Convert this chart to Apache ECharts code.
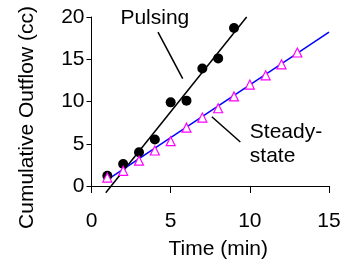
<!DOCTYPE html>
<html><head><meta charset="utf-8">
<script src="https://cdn.jsdelivr.net/npm/echarts@6/dist/echarts.min.js"></script>
<style>html,body{margin:0;padding:0;background:#fff}#c{width:356px;height:261px}</style>
</head><body><div id="c"></div>
<script>
const xTicks = [0, 5, 10, 15];
const yTicks = [0, 5, 10, 15, 20];
const time = [1, 2, 3, 4, 5, 6, 7, 8, 9, 10, 11, 12, 13];
const pulsing = [1.2, 2.6, 4.0, 5.5, 9.9, 10.1, 13.9, 15.1, 18.7];
const steady = [1.0, 1.8, 3.0, 4.2, 5.3, 6.9, 8.1, 9.2, 10.6, 12.0, 13.1, 14.4, 15.8];
const pulsingFit = [[0.9, -0.8], [9.8, 20]];
const steadyFit = [[0.97, 0.7], [15, 18.2]];
const pulsingPointer = [[4.2, 18.2], [5.76, 12.7]];
const steadyPointer = [[7.6, 8.2], [9.4, 5.2]];
const pulsingLabel = ['Pulsing', 4.0, 19.9];
const steadyLabel = ['Steady-\nstate', 10.0, 5.0];

const FONT = 'Liberation Sans, Arial, sans-serif';
const FS = 21;
const chart = echarts.init(document.getElementById('c'), null, {renderer: 'canvas'});
const lineStyleBlack = {color: '#000', width: 1.5};
chart.setOption({
  animation: false,
  grid: {left: 91.5, right: 27, top: 17, bottom: 75, containLabel: false, outerBoundsMode: 'none'},
  xAxis: {
    type: 'value', min: xTicks[0], max: xTicks[xTicks.length - 1], interval: 5,
    name: 'Time (min)', nameLocation: 'middle', nameGap: 53,
    nameTextStyle: {fontSize: FS, fontFamily: FONT, color: '#000', padding: [0, 0, 0, 16]},
    axisLine: {onZero: false, lineStyle: {color: '#000', width: 1}},
    axisTick: {length: 7, lineStyle: {color: '#000'}},
    axisLabel: {fontSize: FS, fontFamily: FONT, color: '#000', margin: 25},
    splitLine: {show: false}
  },
  yAxis: {
    type: 'value', min: yTicks[0], max: yTicks[yTicks.length - 1], interval: 5,
    name: 'Cumulative Outflow (cc)', nameLocation: 'middle', nameGap: 54, nameRotate: 90,
    nameTextStyle: {fontSize: FS, fontFamily: FONT, color: '#000', padding: [0, 32, 0, 0]},
    axisLine: {show: true, lineStyle: {color: '#000', width: 1}},
    axisTick: {show: true, length: 5, lineStyle: {color: '#000'}},
    axisLabel: {fontSize: FS, fontFamily: FONT, color: '#000', margin: 7},
    splitLine: {show: false}
  },
  series: [
    {type: 'line', data: pulsingFit, symbol: 'none', clip: false, lineStyle: lineStyleBlack, z: 2},
    {type: 'line', data: steadyFit, symbol: 'none', clip: false, lineStyle: {color: '#0000ff', width: 1.5}, z: 2},
    {type: 'line', data: pulsingPointer, symbol: 'none', clip: false, lineStyle: lineStyleBlack, z: 2},
    {type: 'line', data: steadyPointer, symbol: 'none', clip: false, lineStyle: lineStyleBlack, z: 2},
    {type: 'scatter', data: pulsing.map((v, i) => [time[i], v]), symbol: 'circle', symbolSize: 10,
     itemStyle: {color: '#000', opacity: 1}, z: 3},
    {type: 'scatter', data: steady.map((v, i) => [time[i], v]), symbol: 'triangle', symbolSize: 9,
     itemStyle: {color: '#fff', borderColor: '#ff00ff', borderWidth: 1.2, opacity: 1}, z: 4},
    {type: 'scatter', data: [[pulsingLabel[1], pulsingLabel[2]]], symbolSize: 0, clip: false,
     itemStyle: {opacity: 1},
     label: {show: true, position: 'inside', formatter: pulsingLabel[0], fontSize: FS, fontFamily: FONT, color: '#000'}, z: 5},
    {type: 'scatter', data: [[steadyLabel[1], steadyLabel[2]]], symbolSize: 0, clip: false,
     itemStyle: {opacity: 1},
     label: {show: true, position: 'right', distance: 0, formatter: steadyLabel[0], fontSize: FS, fontFamily: FONT, color: '#000', lineHeight: 24, align: 'left'}, z: 5}
  ]
});
</script></body></html>
